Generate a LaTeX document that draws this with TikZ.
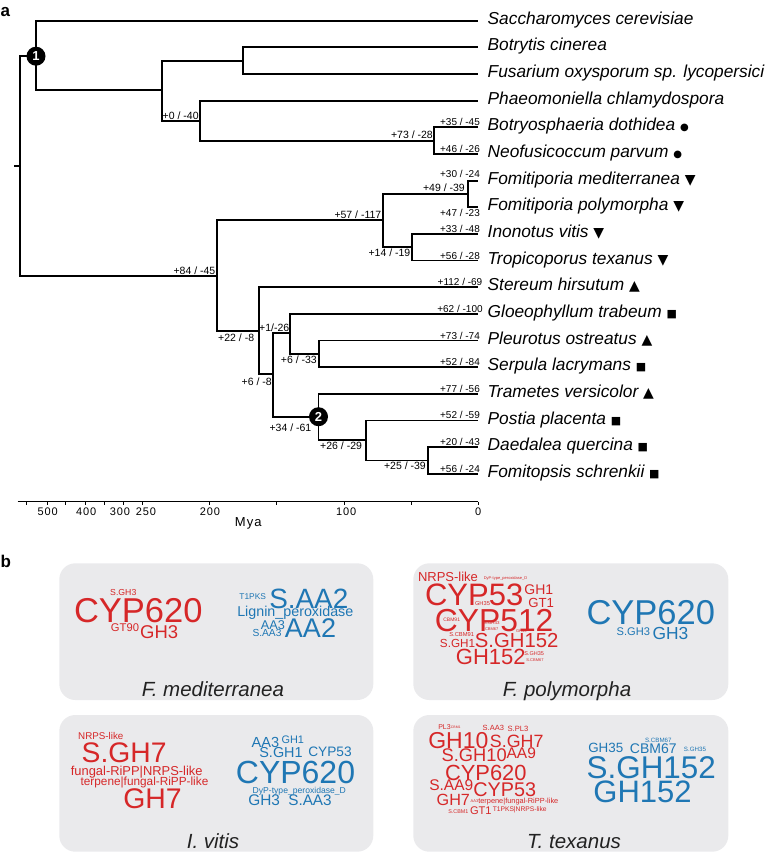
\documentclass[tikz,border=0pt]{standalone}
\usepackage{fontspec}
\setmainfont{Liberation Sans}
\newfontfamily\symfont{DejaVu Sans}
\newfontfamily\axisfont[LetterSpace=8]{Liberation Sans}
\definecolor{wred}{HTML}{D62728}
\definecolor{wblue}{HTML}{1F77B4}
\definecolor{panelgray}{RGB}{234,234,236}
\definecolor{titlegray}{HTML}{222222}
\newcounter{wcnt}
\newcommand\wc[5]{\stepcounter{wcnt}\node[word, text=#4, font=\fontsize{#3}{#3}\selectfont, name=w\arabic{wcnt}] at ({#1},{#2+0.358*#3}) {#5};}
\newcommand\sdot{{\upshape\symfont\fontsize{10}{10}\selectfont ●}}
\newcommand\sdown{{\upshape\symfont\fontsize{14}{14}\selectfont ▼}}
\newcommand\supt{{\upshape\symfont\fontsize{14}{14}\selectfont ▲}}
\newcommand\ssq{{\upshape\symfont\fontsize{11}{11}\selectfont ■}}
\tikzset{
  word/.style={anchor=base, inner sep=0pt, outer sep=0pt},
  branch/.style={line width=1.8pt, line join=miter},
  species/.style={anchor=base west, inner sep=0pt, font=\itshape\fontsize{17.3}{17.3}\selectfont},
  ilab/.style={inner sep=0pt, font=\fontsize{10.5}{10.5}\selectfont},
  llab/.style={anchor=base, inner sep=0pt, font=\fontsize{10}{10}\selectfont},
  numcirc/.style={circle, fill=black, minimum size=19pt, inner sep=0pt, text=white, font=\bfseries\fontsize{13}{13}\selectfont},
  panel/.style={fill=panelgray, rounded corners=16pt},
  ptitle/.style={anchor=base, inner sep=0pt, text=titlegray, font=\itshape\fontsize{20.5}{20.5}\selectfont},
  axlab/.style={anchor=base, inner sep=0pt, font=\axisfont\fontsize{11}{11}\selectfont},
  plabel/.style={anchor=base west, inner sep=0pt, font=\bfseries\fontsize{17}{17}\selectfont}
}
\begin{document}
\begin{tikzpicture}[x=1pt,y=-1pt]
\useasboundingbox (0,0) rectangle (777,855);
% panel letters
\node[plabel] (la) at (0.5,16.5) {a};
\node[plabel] (lb) at (0.5,567.3) {b};
% ---------- tree ----------
\coordinate (root) at (20,165.9);
\coordinate (rootstem) at (14,165.9);
\coordinate (n1) at (36,56.2);
\coordinate (nB) at (162,90);
\coordinate (nC) at (243,60.7);
\coordinate (nD) at (200,120.7);
\coordinate (nE) at (434,140.6);
\coordinate (nA) at (217,275.7);
\coordinate (nF) at (383,220);
\coordinate (nH) at (468,193.9);
\coordinate (nI) at (412,247.2);
\coordinate (nG) at (259.3,331);
\coordinate (nJ) at (273.3,374.3);
\coordinate (nK) at (290,333.3);
\coordinate (nL) at (319.3,353.8);
\coordinate (n2) at (318.5,416.7);
\coordinate (nM) at (365.7,440);
\coordinate (nN) at (428.3,460.4);
\foreach \i/\t in {0/{Saccharomyces cerevisiae},1/{Botrytis cinerea},2/{Fusarium oxysporum sp. lycopersici},3/{Phaeomoniella chlamydospora},4/{Botryosphaeria dothidea \sdot},5/{Neofusicoccum parvum \sdot},6/{Fomitiporia mediterranea \sdown},7/{Fomitiporia polymorpha \sdown},8/{Inonotus vitis \sdown},9/{Tropicoporus texanus \sdown},10/{Stereum hirsutum \supt},11/{Gloeophyllum trabeum \ssq},12/{Pleurotus ostreatus \supt},13/{Serpula lacrymans \ssq},14/{Trametes versicolor \supt},15/{Postia placenta \ssq},16/{Daedalea quercina \ssq},17/{Fomitopsis schrenkii \ssq}}{
  \coordinate (l\i) at (478,{20.7+26.65*\i});
  \node[species] (s\i) at (487.5,{24.3+26.65*\i}) {\t};
}
\draw[branch] (root) -- (rootstem);
\draw[branch] (root) |- (n1);
\draw[branch] (root) |- (nA);
\draw[branch] (n1) |- (l0);
\draw[branch] (n1) |- (nB);
\draw[branch] (nB) |- (nC);
\draw[branch] (nB) |- (nD);
\draw[branch] (nC) |- (l1);
\draw[branch] (nC) |- (l2);
\draw[branch] (nD) |- (l3);
\draw[branch] (nD) |- (nE);
\draw[branch] (nE) |- (l4);
\draw[branch] (nE) |- (l5);
\draw[branch] (nA) |- (nF);
\draw[branch] (nA) |- (nG);
\draw[branch] (nF) |- (nH);
\draw[branch] (nF) |- (nI);
\draw[branch] (nH) |- (l6);
\draw[branch] (nH) |- (l7);
\draw[branch] (nI) |- (l8);
\draw[branch] (nI) |- (l9);
\draw[branch] (nG) |- (l10);
\draw[branch] (nG) |- (nJ);
\draw[branch] (nJ) |- (nK);
\draw[branch] (nJ) |- (n2);
\draw[branch] (nK) |- (l11);
\draw[branch] (nK) |- (nL);
\draw[branch] (nL) |- (l12);
\draw[branch] (nL) |- (l13);
\draw[branch] (n2) |- (l14);
\draw[branch] (n2) |- (nM);
\draw[branch] (nM) |- (l15);
\draw[branch] (nM) |- (nN);
\draw[branch] (nN) |- (l16);
\draw[branch] (nN) |- (l17);
\node[numcirc] (c1) at (n1) {1};
\node[numcirc] (c2) at (n2) {2};
% internal labels
\node[ilab, anchor=base west] (i1) at (162.5,119) {+0 / -40};
\node[ilab, anchor=base east] (i2) at (433,138.5) {+73 / -28};
\node[ilab, anchor=base east] (i3) at (465,191.5) {+49 / -39};
\node[ilab, anchor=base east] (i4) at (381.5,218.5) {+57 / -117};
\node[ilab, anchor=base east] (i5) at (410.5,256) {+14 / -19};
\node[ilab, anchor=base east] (i6) at (215.5,274) {+84 / -45};
\node[ilab, anchor=base west] (i7) at (218,341.5) {+22 / -8};
\node[ilab, anchor=base east] (i8) at (289.5,331) {+1/-26};
\node[ilab, anchor=base east] (i9) at (317,363.3) {+6 / -33};
\node[ilab, anchor=base east] (i10) at (272,385.5) {+6 / -8};
\node[ilab, anchor=base east] (i11) at (311.5,431) {+34 / -61};
\node[ilab, anchor=base west] (i12) at (320,449.5) {+26 / -29};
\node[ilab, anchor=base east] (i13) at (426,469.5) {+25 / -39};
% leaf labels
\foreach \i/\t in {4/{+35 / -45},5/{+46 / -26},8/{+33 / -48},9/{+56 / -28},10/{+112 / -69},11/{+62 / -100},12/{+73 / -74},13/{+52 / -84},14/{+77 / -56},15/{+52 / -59},16/{+20 / -43},17/{+56 / -24}}{
  \node[llab] (ll\i) at (460,{20.7+26.65*\i-1.5}) {\t};
}
\node[llab] (ll6) at (460,177.3) {+30 / -24};
\node[llab] (ll7) at (460,216.5) {+47 / -23};
% axis
\coordinate (ax0) at (17.7,501.5);
\coordinate (ax1) at (478.3,501.5);
\draw[line width=1.3pt] (ax0) -- (ax1);
\foreach \x in {26.7,47.7,65,85,104.3,123,142.3,209.3,276.7,344,411,478.3}{
  \draw[line width=0.8pt] (\x,501.5) -- ++(0,3);
}
\foreach \x/\t in {47.7/500,86.3/400,120/300,146/250,210/200,346.3/100,478.3/0}{
  \node[axlab] (ax\t) at (\x,515.5) {\t};
}
\node[anchor=base, inner sep=0pt, font=\axisfont\fontsize{13}{13}\selectfont] (mya) at (248.3,526.7) {Mya};
% ---------- panels ----------
\fill[panel] (59.3,563.3) rectangle (373.3,700);
\fill[panel] (413.3,563.3) rectangle (728.3,700);
\fill[panel] (59.3,715) rectangle (373.3,851.7);
\fill[panel] (413.3,715) rectangle (728.3,851.7);
\node[ptitle] (t1) at (213,696.7) {F. mediterranea};
\node[ptitle] (t2) at (567,696.7) {F. polymorpha};
\node[ptitle] (t3) at (213,848.2) {I. vitis};
\node[ptitle] (t4) at (574,848.2) {T. texanus};
% panel 1
\wc{123.3}{592.7}{8.7}{wred}{S.GH3}
\wc{138.3}{610}{34.5}{wred}{CYP620}
\wc{125}{627.7}{11.2}{wred}{GT90}
\wc{159.2}{631.7}{18.5}{wred}{GH3}
\wc{252.7}{596}{8.4}{wblue}{T1PKS}
\wc{308.8}{598.3}{27.9}{wblue}{S.AA2}
\wc{295.3}{611.7}{14.3}{wblue}{Lignin\_peroxidase}
\wc{273}{625}{12.7}{wblue}{AA3}
\wc{267}{633.3}{10.2}{wblue}{S.AA3}
\wc{310.5}{628.3}{27}{wblue}{AA2}
% panel 2
\wc{448}{577}{13}{wred}{NRPS-like}
\wc{505.5}{578}{4}{wred}{DyP-type\_peroxidase\_D}
\wc{474.2}{594.5}{31}{wred}{CYP53}
\wc{538.8}{589}{14}{wred}{GH1}
\wc{541.2}{602.3}{13.2}{wred}{GT1}
\wc{482.5}{603.3}{5.7}{wred}{GH35}
\wc{494.2}{620}{31.8}{wred}{CYP512}
\wc{451.7}{619.3}{5}{wred}{CBM91}
\wc{491.7}{623.3}{4.4}{wred}{S.GH43}
\wc{491.7}{629}{4}{wred}{CBM67}
\wc{521.3}{630.7}{4}{wred}{GH43}
\wc{461.7}{634.3}{5.8}{wred}{S.CBM91}
\wc{457.5}{643}{11.7}{wred}{S.GH1}
\wc{516.7}{640.5}{20.3}{wred}{S.GH152}
\wc{490.8}{656.7}{22}{wred}{GH152}
\wc{534.2}{653.3}{5.5}{wred}{S.GH35}
\wc{535}{660}{4}{wred}{S.CBM67}
\wc{650.8}{612.5}{34.5}{wblue}{CYP620}
\wc{633.3}{631.7}{11.1}{wblue}{S.GH3}
\wc{670.5}{633.3}{17.4}{wblue}{GH3}
% panel 3
\wc{100.8}{736}{9.8}{wred}{NRPS-like}
\wc{124.2}{752.5}{28.3}{wred}{S.GH7}
\wc{136.7}{771}{12.9}{wred}{fungal-RiPP|NRPS-like}
\wc{144.5}{781}{11.8}{wred}{terpene|fungal-RiPP-like}
\wc{152.5}{798.3}{28.4}{wred}{GH7}
\wc{265.5}{742.3}{14.6}{wblue}{AA3}
\wc{292.8}{740}{10.9}{wblue}{GH1}
\wc{281}{752.7}{14.4}{wblue}{S.GH1}
\wc{330}{751.7}{13.7}{wblue}{CYP53}
\wc{295.5}{771.7}{32}{wblue}{CYP620}
\wc{299.3}{790}{8.6}{wblue}{DyP-type\_peroxidase\_D}
\wc{264.2}{800}{15.4}{wblue}{GH3}
\wc{310}{800}{15.3}{wblue}{S.AA3}
% panel 4
\wc{444.5}{727.3}{7}{wred}{PL3}
\wc{455.8}{727}{3.5}{wred}{CBM1}
\wc{493.3}{728.3}{7.5}{wred}{S.AA3}
\wc{518}{728.3}{7.6}{wred}{S.PL3}
\wc{458.3}{740}{23}{wred}{GH10}
\wc{516.7}{741}{17.8}{wred}{S.GH7}
\wc{474.2}{755}{18.3}{wred}{S.GH10}
\wc{521.3}{753}{15.5}{wred}{AA9}
\wc{485.8}{772.7}{21.9}{wred}{CYP620}
\wc{451.3}{785}{15.5}{wred}{S.AA9}
\wc{504.7}{789}{19.8}{wred}{CYP53}
\wc{453.3}{800}{16.2}{wred}{GH7}
\wc{474.5}{800.7}{4}{wred}{AA3}
\wc{518.3}{800.7}{7.4}{wred}{terpene|fungal-RiPP-like}
\wc{458.3}{811.7}{5.4}{wred}{S.CBM1}
\wc{480.8}{811}{11.1}{wred}{GT1}
\wc{519.7}{809}{6.7}{wred}{T1PKS|NRPS-like}
\wc{658.3}{740}{6.2}{wblue}{S.CBM67}
\wc{605.8}{747.3}{13.4}{wblue}{GH35}
\wc{653.3}{748.3}{14}{wblue}{CBM67}
\wc{695}{749}{6.2}{wblue}{S.GH35}
\wc{651.3}{767.5}{31.4}{wblue}{S.GH152}
\wc{642.5}{791.7}{31}{wblue}{GH152}
\end{tikzpicture}
\end{document}
